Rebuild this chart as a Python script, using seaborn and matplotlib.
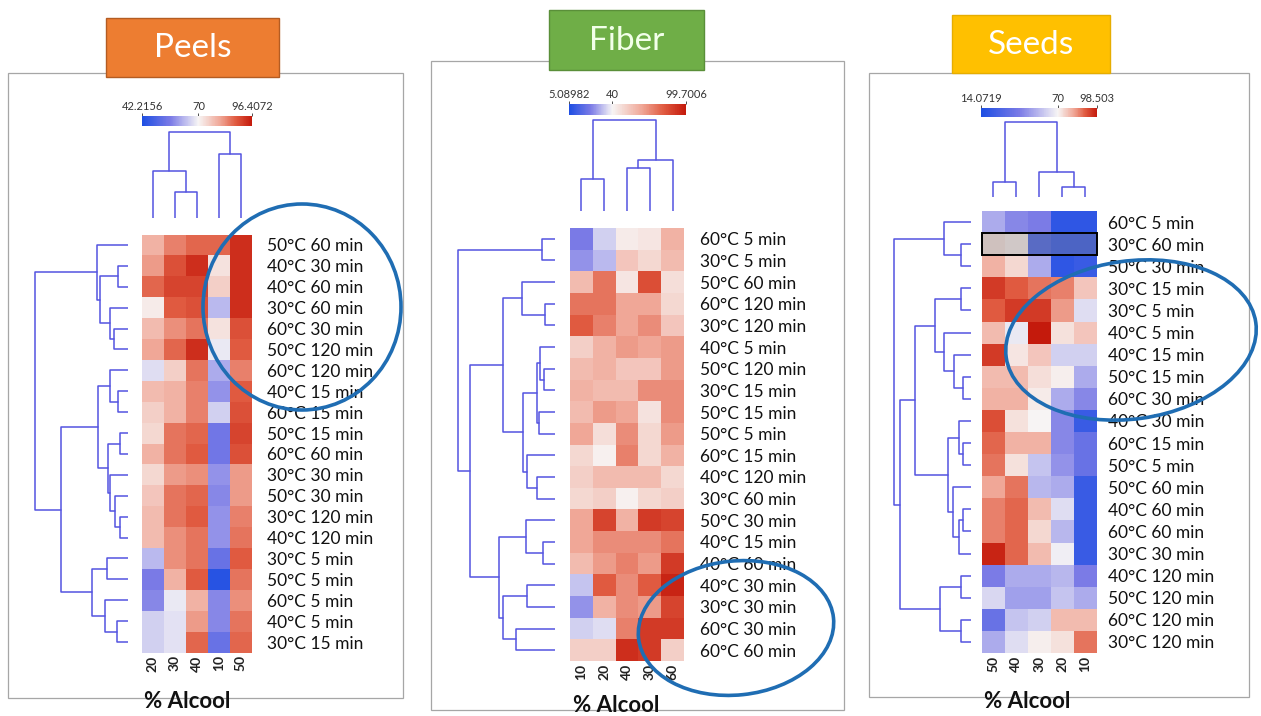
import numpy as np
import pandas as pd
import matplotlib
matplotlib.use("Agg")
import matplotlib.pyplot as plt
import seaborn as sns
from matplotlib.colors import LinearSegmentedColormap, TwoSlopeNorm
from matplotlib.patches import Rectangle, Ellipse

W, H = 1261, 716

# ---------------- data ----------------
peels_rows = ["50°C 60 min", "40°C 30 min", "40°C 60 min", "30°C 60 min", "60°C 30 min",
              "50°C 120 min", "60°C 120 min", "40°C 15 min", "60°C 15 min", "50°C 15 min",
              "60°C 60 min", "30°C 30 min", "50°C 30 min", "30°C 120 min", "40°C 120 min",
              "30°C 5 min", "50°C 5 min", "60°C 5 min", "40°C 5 min", "30°C 15 min"]
peels_cols = ["20", "30", "40", "10", "50"]
peels_values = [
    [79.2, 84.5, 87.2, 87.2, 93.8],
    [81.9, 89.8, 93.8, 72.6, 93.8],
    [87.2, 91.1, 91.1, 75.3, 93.8],
    [71.3, 88.5, 89.8, 63.1, 93.8],
    [77.9, 83.2, 85.8, 72.6, 89.8],
    [80.6, 87.2, 93.8, 68.6, 88.5],
    [67.2, 75.3, 85.8, 61.7, 84.5],
    [77.9, 79.2, 84.5, 58.9, 88.5],
    [75.3, 79.2, 84.5, 65.8, 89.8],
    [74.0, 85.8, 87.2, 54.7, 91.1],
    [79.2, 85.8, 88.5, 54.7, 89.8],
    [74.0, 81.9, 83.2, 58.9, 81.9],
    [76.6, 85.8, 87.2, 57.5, 81.9],
    [77.9, 85.8, 88.5, 58.9, 84.5],
    [77.9, 83.2, 85.8, 58.9, 85.8],
    [63.1, 83.2, 85.8, 53.3, 88.5],
    [56.1, 79.2, 88.5, 43.8, 85.8],
    [57.5, 68.6, 79.2, 57.5, 83.2],
    [65.8, 67.8, 81.9, 57.5, 85.8],
    [65.8, 67.8, 87.2, 53.3, 87.2],
]
peels_scale = [42.2156, 70, 96.4072]
peels_scale_labels = ["42.2156", "70", "96.4072"]
# dendrograms: [left, right, height]
peels_row_tree = [[0, [[1, 2, 10], [3, [4, 5, 14], 18], 28], 31],
                  [[[6, [7, 8, 10], 18], [[9, 10, 8], [11, [12, [13, 14, 8], 13], 18], 20], 30],
                   [[15, 16, 21], [17, [18, 19, 11], 23], 36], 67], 93]
peels_col_tree = [[0, [1, 2, 26], 47], [3, 4, 64], 86]

fiber_rows = ["60°C 5 min", "30°C 5 min", "50°C 60 min", "60°C 120 min", "30°C 120 min",
              "40°C 5 min", "50°C 120 min", "30°C 15 min", "50°C 15 min", "50°C 5 min",
              "60°C 15 min", "40°C 120 min", "30°C 60 min", "50°C 30 min", "40°C 15 min",
              "40°C 60 min", "40°C 30 min", "30°C 30 min", "60°C 30 min", "60°C 60 min"]
fiber_cols = ["10", "20", "40", "30", "60"]
fiber_values = [
    [22.5, 34.8, 43.0, 44.8, 60.9],
    [26.0, 31.3, 54.9, 49.0, 57.9],
    [57.9, 75.8, 44.8, 84.8, 47.2],
    [75.8, 75.8, 63.9, 63.9, 49.0],
    [81.8, 72.8, 63.9, 69.9, 54.9],
    [51.9, 60.9, 66.9, 63.9, 66.9],
    [57.9, 60.9, 54.9, 54.9, 66.9],
    [60.9, 57.9, 57.9, 69.9, 69.9],
    [57.9, 66.9, 63.9, 46.0, 69.9],
    [63.9, 47.2, 69.9, 49.0, 66.9],
    [49.0, 41.8, 72.8, 49.0, 60.9],
    [51.9, 57.9, 57.9, 57.9, 49.0],
    [49.0, 51.9, 41.8, 49.0, 51.9],
    [63.9, 87.8, 60.9, 90.7, 87.8],
    [63.9, 69.9, 69.9, 69.9, 75.8],
    [57.9, 66.9, 72.8, 66.9, 90.7],
    [33.0, 81.8, 69.9, 81.8, 96.7],
    [26.0, 60.9, 69.9, 66.9, 87.8],
    [34.8, 36.5, 72.8, 90.7, 90.7],
    [51.9, 51.9, 93.7, 90.7, 51.9],
]
fiber_scale = [5.08982, 40, 99.7006]
fiber_scale_labels = ["5.08982", "40", "99.7006"]
fiber_row_tree = [[0, 1, 13],
                  [[[2, [3, 4, 10], 33],
                    [[[5, [6, 7, 11], 15], [8, 9, 16], 18], [10, [11, 12, 18], 28], 32], 52],
                   [[13, [14, 15, 12], 29], [[16, 17, 28], [18, 19, 39], 52], 56], 85], 97]
fiber_col_tree = [[0, 1, 32], [[2, 3, 43], 4, 51], 91]

seeds_rows = ["60°C 5 min", "30°C 60 min", "50°C 30 min", "30°C 15 min", "30°C 5 min",
              "40°C 5 min", "40°C 15 min", "50°C 15 min", "60°C 30 min", "40°C 30 min",
              "60°C 15 min", "50°C 5 min", "50°C 60 min", "40°C 60 min", "60°C 60 min",
              "30°C 30 min", "40°C 120 min", "50°C 120 min", "60°C 120 min", "30°C 120 min"]
seeds_cols = ["50", "40", "30", "20", "10"]
seeds_values = [
    [53.2, 44.8, 42.1, 19.7, 19.7],
    [72.9, 71.4, 28.1, 22.5, 22.5],
    [80.0, 74.3, 53.2, 19.7, 22.5],
    [94.2, 90.0, 87.1, 85.7, 77.1],
    [90.0, 94.2, 94.2, 82.8, 64.4],
    [78.6, 67.2, 98.5, 72.9, 77.1],
    [94.2, 72.3, 77.1, 61.6, 61.6],
    [78.6, 78.6, 73.4, 70.9, 53.2],
    [80.0, 80.0, 71.4, 53.2, 44.8],
    [91.4, 72.9, 70.0, 44.8, 22.5],
    [88.5, 80.0, 80.0, 44.8, 36.5],
    [87.1, 72.9, 58.8, 47.6, 36.5],
    [81.4, 87.1, 56.0, 53.2, 22.5],
    [85.7, 88.5, 78.6, 64.4, 22.5],
    [85.7, 88.5, 74.3, 56.0, 22.5],
    [97.1, 88.5, 78.6, 68.3, 22.5],
    [42.1, 53.2, 53.2, 56.0, 42.1],
    [63.3, 50.4, 50.4, 58.8, 53.2],
    [36.5, 58.8, 61.6, 78.6, 78.6],
    [53.2, 64.4, 70.9, 72.9, 87.1],
]
seeds_scale = [14.0719, 70, 98.503]
seeds_scale_labels = ["14.0719", "70", "98.503"]
seeds_row_tree = [[0, [1, 2, 10], 27],
                  [[[[3, 4, 10], [5, [6, [7, 8, 8], 17], 27], 36],
                    [[9, [10, 11, 8], 12], [12, [[13, 14, 8], 15, 12], 18], 23], 56],
                   [[16, 17, 10], [18, 19, 10], 31], 71], 77]
seeds_col_tree = [[0, 1, 15], [2, [3, 4, 10], 25], 75]
seeds_highlight = "30°C 60 min"

titles = ["Peels", "Fiber", "Seeds"]
axis_title = "% Alcool"

# ---------------- style ----------------
sns.set_theme(style="white")
plt.rcParams['font.family'] = ['Lato', 'DejaVu Sans']

fig = plt.figure(figsize=(W / 100, H / 100), dpi=100)
fig.patch.set_facecolor("white")


def rect(x0, y0, x1, y1):
    return [x0 / W, 1 - y1 / H, (x1 - x0) / W, (y1 - y0) / H]


cmap = LinearSegmentedColormap.from_list(
    "bwr_sp", [(0.0, "#1d4ee3"), (0.25, "#7b7be6"), (0.5, "#f7f5f5"),
               (0.7, "#f0a898"), (0.85, "#e05a40"), (1.0, "#c41a0c")])
DCOL = "#5454e0"


def draw_tree(ax, node, orient):
    if isinstance(node, int):
        return node + 0.5, 0.0
    l, r, h = node
    pl, hl = draw_tree(ax, l, orient)
    pr, hr = draw_tree(ax, r, orient)
    if orient == "row":
        ax.plot([-hl, -h, -h, -hr], [pl, pl, pr, pr], color=DCOL, lw=1.1)
    else:
        ax.plot([pl, pl, pr, pr], [hl, h, h, hr], color=DCOL, lw=1.1)
    return (pl + pr) / 2, h


panels = [
    dict(title=titles[0], rows=peels_rows, cols=peels_cols, values=peels_values,
         scale=peels_scale, scale_labels=peels_scale_labels,
         rtree=peels_row_tree, ctree=peels_col_tree,
         hm=(141.5, 234.5, 252, 652.5), leaf_x=128, leaf_y=218,
         cb=(142, 116, 252, 126), pad=15, label_y=701),
    dict(title=titles[1], rows=fiber_rows, cols=fiber_cols, values=fiber_values,
         scale=fiber_scale, scale_labels=fiber_scale_labels,
         rtree=fiber_row_tree, ctree=fiber_col_tree,
         hm=(570, 228, 684, 661), leaf_x=555, leaf_y=211,
         cb=(569, 104, 686, 115), pad=16, label_y=706),
    dict(title=titles[2], rows=seeds_rows, cols=seeds_cols, values=seeds_values,
         scale=seeds_scale, scale_labels=seeds_scale_labels,
         rtree=seeds_row_tree, ctree=seeds_col_tree,
         hm=(981.5, 211, 1097, 653), leaf_x=971, leaf_y=197,
         cb=(981, 108, 1097, 117), pad=11, label_y=702),
]

for p in panels:
    vmin, vc, vmax = p["scale"]
    norm = TwoSlopeNorm(vcenter=vc, vmin=vmin, vmax=vmax)
    df = pd.DataFrame(p["values"], index=p["rows"], columns=p["cols"])
    x0, y0, x1, y1 = p["hm"]
    ax = fig.add_axes(rect(x0, y0, x1, y1))
    sns.heatmap(df, ax=ax, cmap=cmap, norm=norm, cbar=False,
                xticklabels=True, yticklabels=True)
    ax.yaxis.tick_right()
    ax.set_yticklabels(p["rows"], rotation=0, fontsize=12.5, color="#111111")
    ax.set_xticklabels(p["cols"], rotation=90, fontsize=10, fontweight="bold", color="#222222")
    ax.tick_params(axis="y", length=0, pad=p["pad"] * 0.72)
    ax.tick_params(axis="x", length=0, pad=2)
    ax.set_xlabel("")
    ax.set_ylabel("")
    if p["title"] == "Seeds":
        i = p["rows"].index(seeds_highlight)
        ax.add_patch(Rectangle((0, i), len(p["cols"]), 1, facecolor="#7a7a7a", alpha=0.3,
                               edgecolor="none", clip_on=False, zorder=5))
        ax.add_patch(Rectangle((0, i), len(p["cols"]), 1, fill=False, edgecolor="black",
                               lw=1.4, clip_on=False, zorder=6))

    # row dendrogram
    hmax = p["rtree"][2]
    rax = fig.add_axes(rect(p["leaf_x"] - hmax - 1, y0, p["leaf_x"], y1))
    draw_tree(rax, p["rtree"], "row")
    rax.set_xlim(-hmax - 1, 0)
    rax.set_ylim(len(p["rows"]), 0)
    rax.axis("off")

    # column dendrogram
    cmax = p["ctree"][2]
    cax_d = fig.add_axes(rect(x0, p["leaf_y"] - cmax - 1, x1, p["leaf_y"]))
    draw_tree(cax_d, p["ctree"], "col")
    cax_d.set_xlim(0, len(p["cols"]))
    cax_d.set_ylim(0, cmax + 1)
    cax_d.axis("off")

    # colour bar
    bx0, by0, bx1, by1 = p["cb"]
    cb = fig.add_axes(rect(bx0, by0, bx1, by1))
    edges = np.linspace(vmin, vmax, 257)
    mids = (edges[:-1] + edges[1:]) / 2
    cb.pcolormesh(edges, [0, 1], mids[None, :], cmap=cmap, norm=norm, shading="flat")
    cb.set_xlim(vmin, vmax)
    cb.set_ylim(0, 1)
    cb.set_yticks([])
    cb.xaxis.tick_top()
    cb.set_xticks(p["scale"])
    cb.set_xticklabels(p["scale_labels"])
    cb.tick_params(axis="x", length=2, width=0.6, pad=1, labelsize=8, colors="#333333")
    for s in cb.spines.values():
        s.set_visible(False)

# ---------------- overlay: frames, titles, ellipses ----------------
ov = fig.add_axes([0, 0, 1, 1])
ov.set_xlim(0, W)
ov.set_ylim(H, 0)
ov.axis("off")
ov.patch.set_alpha(0)

frames = [(8, 73, 403, 698), (431, 61, 844, 710), (869, 73, 1249, 697)]
for fx0, fy0, fx1, fy1 in frames:
    ov.add_patch(Rectangle((fx0, fy0), fx1 - fx0, fy1 - fy0, fill=False,
                           edgecolor="#a6a6a6", lw=0.9))

boxes = [((106, 18, 279, 77), "#ed7d31", "#b45c22", "white", 48),
         ((549, 10, 704, 70), "#6fae47", "#5a8f39", "#f2ffe9", 41),
         ((952, 15, 1110, 73), "#ffc000", "#e6ad00", "white", 45)]
for (box, fc, ec, tc, ty), t in zip(boxes, titles):
    bx0, by0, bx1, by1 = box
    ov.add_patch(Rectangle((bx0, by0), bx1 - bx0, by1 - by0, facecolor=fc,
                           edgecolor=ec, lw=1.0, zorder=3))
    ov.text((bx0 + bx1) / 2, ty, t, color=tc, fontsize=24, ha="center", va="center",
            zorder=4)

for p in panels:
    ov.text(p["hm"][0] + 3, p["label_y"], axis_title, fontsize=16, fontweight="bold",
            ha="left", va="center", color="#111111")

ell_col = "#1f6db3"
ov.add_patch(Ellipse((302, 307), 198, 206, angle=0, fill=False, edgecolor=ell_col, lw=2.6, zorder=5))
ov.add_patch(Ellipse((736, 628), 196, 134, angle=-6, fill=False, edgecolor=ell_col, lw=2.6, zorder=5))
ov.add_patch(Ellipse((1131, 340), 252, 158, angle=-8, fill=False, edgecolor=ell_col, lw=2.6, zorder=5))

fig.savefig("out.png", dpi=100, facecolor="white")
